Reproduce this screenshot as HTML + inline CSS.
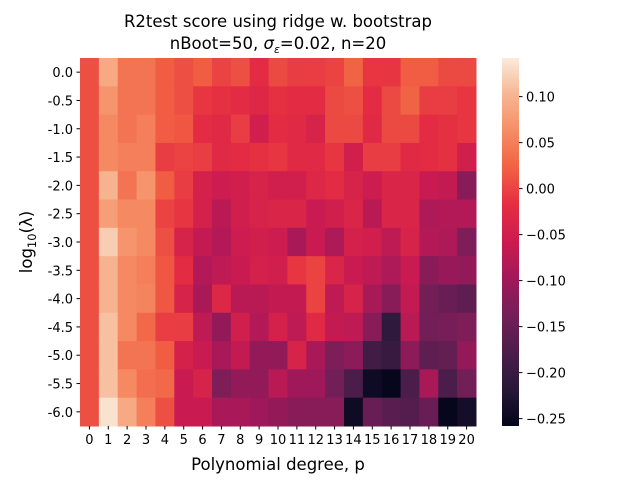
<!DOCTYPE html>
<html><head><meta charset="utf-8"><style>
body{margin:0;background:#fff;font-family:"Liberation Sans","DejaVu Sans",sans-serif}
svg text{font-family:"DejaVu Sans","Liberation Sans",sans-serif}
</style></head><body>
<svg id="chart" width="640" height="480" xmlns="http://www.w3.org/2000/svg">
<text x="278" y="27" text-anchor="middle" font-size="16.5">R2test score using ridge w. bootstrap</text>
<text x="278" y="49" text-anchor="middle" font-size="16.5">nBoot=50,  <tspan font-style="italic">σ</tspan><tspan font-size="11" dy="4" font-style="italic">ε</tspan><tspan dy="-4">=0.02,  n=20</tspan></text>
<g id="cells"></g><g id="xt"></g><g id="yt"></g>
<text x="278" y="470" text-anchor="middle" font-size="16.5">Polynomial degree, p</text>
<text transform="translate(32,242) rotate(-90)" text-anchor="middle" font-size="16.5">log<tspan font-size="11.5" dy="4">10</tspan><tspan dy="-4">(λ)</tspan></text>
<defs><linearGradient id="cg" x1="0" y1="1" x2="0" y2="0"></linearGradient></defs>
<rect x="502" y="58" width="17" height="368" fill="url(#cg)"/>
<g id="cbt"></g>
</svg>
<script>
const degrees=[0,1,2,3,4,5,6,7,8,9,10,11,12,13,14,15,16,17,18,19,20];
const lambdas=["0.0","-0.5","-1.0","-1.5","-2.0","-2.5","-3.0","-3.5","-4.0","-4.5","-5.0","-5.5","-6.0"];
const r0=[.01,.09,.04,.04,.02,.01,.02,0,.01,-.02,.005,-.005,-.005,0,.025,-.01,-.01,.02,.02,.005,.005];
const r1=[.01,.07,.04,.04,.02,.01,-.01,-.015,-.02,-.03,-.015,-.02,-.02,.005,.01,-.02,.005,.025,-.005,-.005,-.01];
const r2=[.01,.06,.04,.05,.02,.015,-.02,-.025,-.005,-.05,-.02,-.025,-.04,.005,.005,-.025,.005,.005,-.02,-.015,-.01];
const r3=[.01,.06,.05,.05,-.005,0,-.005,-.025,-.02,-.015,-.01,-.025,-.025,-.01,-.05,-.005,-.005,-.025,-.02,-.015,-.05];
const r4=[.01,.10,.04,.07,.02,-.005,-.045,-.055,-.05,-.04,-.05,-.05,-.03,-.02,-.04,-.055,-.035,-.035,-.06,-.065,-.12];
const r5=[.01,.08,.06,.06,0,-.01,-.045,-.075,-.05,-.04,-.035,-.035,-.06,-.05,-.035,-.075,-.035,-.035,-.085,-.08,-.08];
const r6=[.01,.12,.07,.06,.01,-.04,-.065,-.08,-.055,-.05,-.055,-.09,-.06,-.085,-.045,-.05,-.07,-.04,-.08,-.085,-.13];
const r7=[.01,.10,.06,.05,.015,-.02,-.08,-.07,-.06,-.045,-.05,-.01,0,-.035,-.06,-.07,-.085,-.06,-.12,-.105,-.11];
const r8=[.01,.10,.06,.055,.015,-.04,-.09,-.03,-.075,-.075,-.065,-.065,0,-.07,-.04,-.09,-.12,-.065,-.14,-.15,-.16];
const r9=[.01,.11,.06,.03,-.005,-.005,-.07,-.11,-.05,-.08,-.045,-.07,-.025,-.065,-.07,-.12,-.21,-.075,-.14,-.135,-.13];
const r10=[.01,.11,.04,.04,.02,-.045,-.06,-.09,-.065,-.11,-.11,-.04,-.09,-.13,-.115,-.19,-.2,-.115,-.16,-.155,-.11];
const r11=[.01,.11,.06,.035,.03,-.06,-.04,-.13,-.11,-.11,-.075,-.1,-.1,-.14,-.18,-.245,-.255,-.18,-.09,-.18,-.14];
const r12=[.01,.135,.09,.05,.01,-.06,-.06,-.09,-.09,-.1,-.11,-.12,-.12,-.12,-.245,-.15,-.165,-.17,-.15,-.255,-.24];
const rows=[r0,r1,r2,r3,r4,r5,r6,r7,r8,r9,r10,r11,r12];
const cbTicks=[0.10,0.05,0.00,-0.05,-0.10,-0.15,-0.20,-0.25];
const vmin=-0.258,vmax=0.142;
const X0=80,X1=476,Y0=58,Y1=426;
const cw=(X1-X0)/degrees.length,ch=(Y1-Y0)/lambdas.length;
const stops=[[3,5,26],[40,24,56],[76,29,75],[116,31,88],[160,24,90],[203,27,80],[228,44,66],[241,96,67],[245,140,100],[246,181,145],[250,235,221]];
function cmap(v){let t=Math.max(0,Math.min(1,(v-vmin)/(vmax-vmin)))*10;let i=Math.min(9,Math.floor(t)),f=t-i;const a=stops[i],b=stops[i+1];
return `rgb(${a.map((c,k)=>Math.round(c+(b[k]-c)*f)).join(',')})`;}
const NS="http://www.w3.org/2000/svg";
function el(t,p,at){const e=document.createElementNS(NS,t);for(const k in at)e.setAttribute(k,at[k]);p.appendChild(e);return e;}
const cells=document.getElementById('cells');
rows.forEach((r,j)=>r.forEach((v,i)=>{const e=el('rect',cells,{x:X0+i*cw,y:Y0+j*ch,width:cw+0.5,height:ch+0.5,fill:cmap(v)});

}));
const xt=document.getElementById('xt');
degrees.forEach((d,i)=>{const x=X0+(i+.5)*cw;el('line',xt,{x1:x,x2:x,y1:Y1,y2:Y1+3.5,stroke:'#000'});
const t=el('text',xt,{x:x,y:Y1+18,'text-anchor':'middle','font-size':'13'});t.textContent=d;

});
const yt=document.getElementById('yt');
lambdas.forEach((l,j)=>{const y=Y0+(j+.5)*ch;el('line',yt,{x1:X0-3.5,x2:X0,y1:y,y2:y,stroke:'#000'});
const t=el('text',yt,{x:X0-7,y:y+5,'text-anchor':'end','font-size':'13'});t.textContent=l;

});
const g=document.getElementById('cg');
for(let k=0;k<=20;k++){const v=vmin+(vmax-vmin)*k/20;el('stop',g,{offset:(k*5)+'%','stop-color':cmap(v)});}
const cbt=document.getElementById('cbt');
cbTicks.forEach(v=>{const y=Y1-(v-vmin)/(vmax-vmin)*(Y1-Y0);el('line',cbt,{x1:519,x2:522.5,y1:y,y2:y,stroke:'#000'});
const t=el('text',cbt,{x:526,y:y+5,'font-size':'13'});t.textContent=(v<0?'\u2212':'')+Math.abs(v).toFixed(2);

});
</script>
</body></html>
